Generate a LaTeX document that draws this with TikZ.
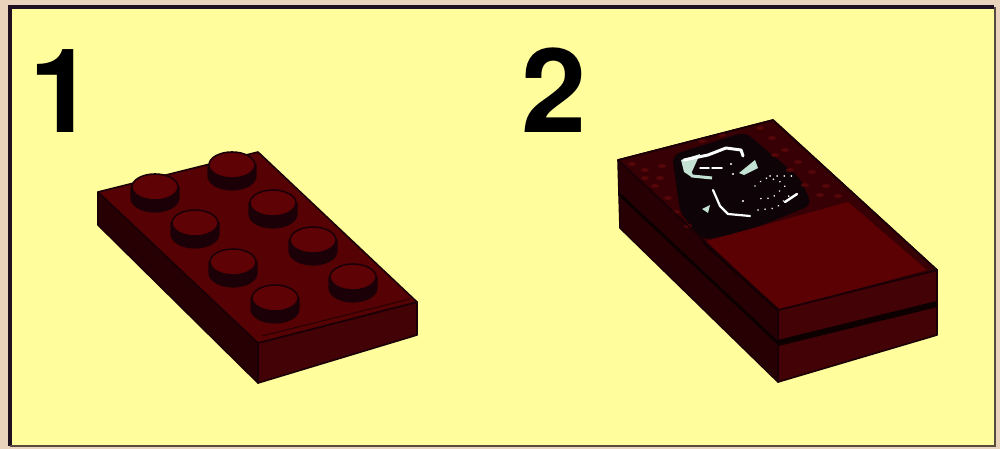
\documentclass[tikz,border=0pt]{standalone}
\usepackage{fontspec}
\setmainfont{TeX Gyre Heros}
\definecolor{paper}{HTML}{E9D3BC}
\definecolor{panel}{HTML}{FFFD9C}
\definecolor{frameline}{HTML}{1E1020}
\definecolor{topred}{HTML}{560103}
\definecolor{sidered}{HTML}{270004}
\definecolor{frontred}{HTML}{430205}
\definecolor{studred}{HTML}{5E0205}
\definecolor{studside}{HTML}{1C0008}
\definecolor{outline}{HTML}{1A0006}
\definecolor{tilered}{HTML}{5C0103}
\definecolor{decal}{HTML}{0E0408}
\definecolor{speck}{HTML}{540608}
\definecolor{mint}{HTML}{C4E2D4}
\tikzset{
  digit/.style={inner sep=0pt,anchor=base west,text=black,font=\fontsize{117}{117}\selectfont\bfseries},
  edge/.style={draw=outline,line width=1.6pt,line join=round},
  studbody/.style={fill=studside,draw=studside,line width=1.2pt},
  studtop/.style={fill=studred,draw=studside,line width=1.6pt},
  decalline/.style={draw=white!92!mint,line width=1.5pt,line cap=round,line join=round},
  decaldots/.style={draw=white!92!mint,line width=1.7pt,line cap=round,dash pattern=on 0.1pt off 7pt}
}
\newcommand{\lugstud}[2]{%
  \fill[studbody] (#1-24,#2) -- (#1-24,#2+11) arc[start angle=180,end angle=0,x radius=24,y radius=14] -- (#1+24,#2) -- cycle;
  \filldraw[studtop] (#1,#2) ellipse[x radius=23,y radius=13];
}
\begin{document}
\begin{tikzpicture}[x=1pt,y=-1pt]
\useasboundingbox (0,0) rectangle (1000,449);
\fill[paper] (0,0) rectangle (1000,449);
\fill[panel] (10,8) rectangle (994,446);
% frame
\draw[frameline,line width=3.5pt] (10,446) -- (10,7) -- (994,7);
\draw[frameline!75!panel,line width=2pt] (10,446) -- (995,446) -- (995,7);
% numbers
\node[digit] (one) at (29,133) {1};
\node[digit] (two) at (521,133) {2};
% plate 1
\filldraw[edge,fill=sidered] (98,192) -- (258,343) -- (258,383) -- (98,225) -- cycle;
\filldraw[edge,fill=frontred] (258,343) -- (417,302) -- (417,335) -- (258,383) -- cycle;
\filldraw[edge,fill=topred] (98,192) -- (258,152) -- (417,302) -- (258,343) -- cycle;
\draw[sidered,line width=1pt] (262,336) -- (410,299);
\lugstud{232}{165}
\lugstud{155}{187}
\lugstud{273}{203}
\lugstud{195}{223}
\lugstud{313}{240}
\lugstud{233}{262}
\lugstud{353}{277}
\lugstud{275}{298}
% plate 2
\filldraw[edge,fill=sidered] (618,160) -- (778,310) -- (778,382) -- (620,228) -- cycle;
\filldraw[edge,fill=frontred] (778,310) -- (937,270) -- (937,335) -- (778,382) -- cycle;
\draw[black!70!sidered,line width=6pt] (937,304) -- (778,343);
\draw[black!70!sidered,line width=3pt] (619,194) -- (778,343);
\filldraw[edge,fill=sidered!65!topred] (618,160) -- (773,120) -- (937,270) -- (778,310) -- cycle;
\fill[decal,rounded corners=8pt] (672,155) -- (745,132) -- (800,178) -- (812,205) -- (745,232) -- (702,240) -- (680,212) -- cycle;
\foreach \sx/\sy in {632/164,645/170,662/166,645/178,655/186,668/198,676/212,688/226,660/178,702/141,722/135,760/128,772/138,785/150,798/162,812/172,826/186,838/196,790/170,775/155,820/195,805/185}
  \fill[speck] (\sx,\sy) ellipse[x radius=4,y radius=2];
% tile
\fill[tilered] (703,242) -- (848,202) -- (927,270) -- (778,310) -- cycle;
\draw[black!55!sidered,line width=3pt] (703,242) -- (778,310);
\draw[edge] (618,160) -- (773,120) -- (937,270) -- (778,310) -- cycle;
% decal
\fill[mint] (681,160) -- (700,154) -- (690,176) -- (684,172) -- cycle;
\draw[mint,line width=3pt,line join=round] (683,160) -- (692,176) -- (712,178);
\draw[decalline,line width=3pt] (684,160) -- (708,155) -- (726,148) -- (741,150) -- (743,156);
\draw[decalline] (700,168) -- (709,168) (712,168) -- (722,168);
\fill[mint] (739,173) -- (755,160) -- (758,168) -- (744,175) -- cycle;
\draw[decalline,line width=2.2pt] (713,190) -- (720,206) -- (728,214) -- (750,216);
\fill[mint] (702,209) -- (710,205) -- (708,213) -- cycle;
\draw[decaldots] (758,210) -- (776,208) -- (790,195);
\draw[decalline,line width=2.4pt] (785,202) -- (797,194);
\draw[decaldots] (755,186) -- (765,178) -- (778,180) -- (785,186) -- (772,198) -- (754,199);
\draw[decaldots] (770,176) -- (792,176);
\fill[white] (731,164) circle[radius=1.2] (733,174) circle[radius=1.2] (743,201) circle[radius=1.2];
\end{tikzpicture}
\end{document}
